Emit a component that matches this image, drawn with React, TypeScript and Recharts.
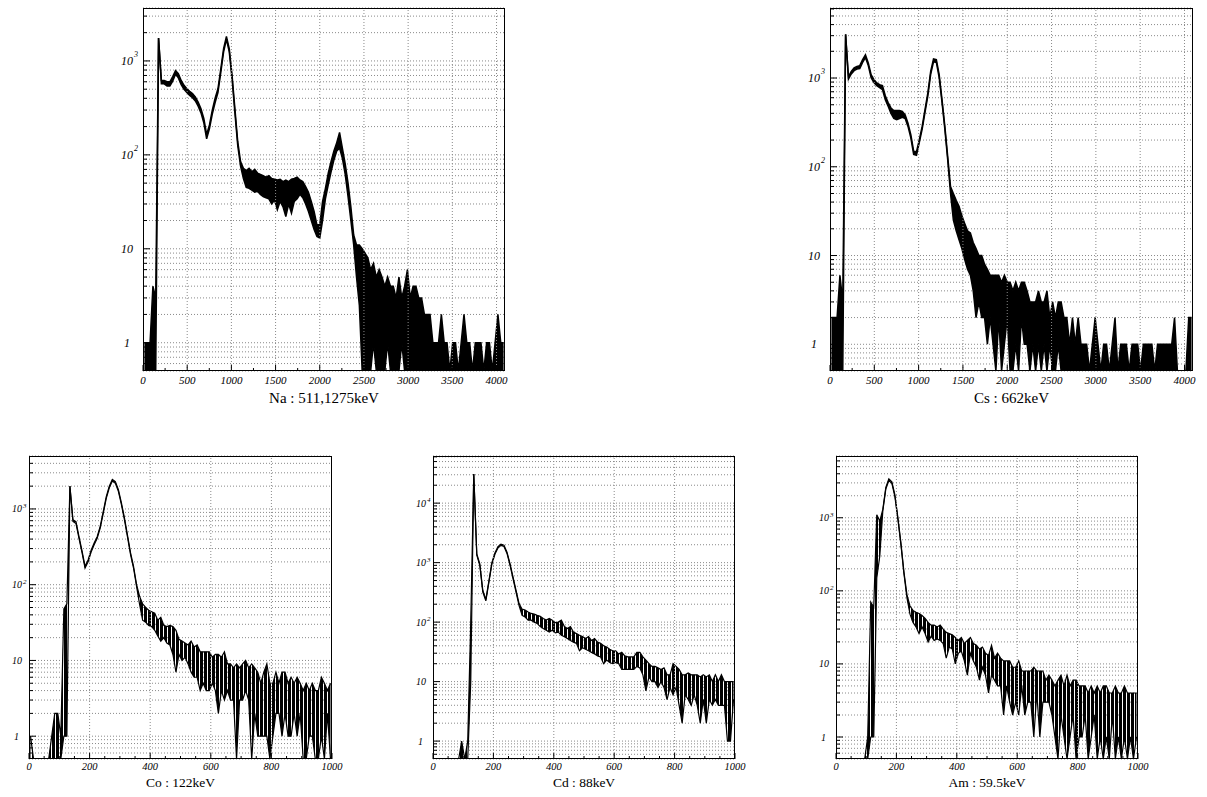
import { AreaChart, Area, XAxis, YAxis, CartesianGrid, ReferenceLine } from "recharts";

const serif = '"Liberation Serif", "Times New Roman", serif';

// axis ticks: labelled ones and the small ones between them
const naXLabels = [0, 500, 1000, 1500, 2000, 2500, 3000, 3500, 4000];
const naXTicks = [0, 250, 500, 750, 1000, 1250, 1500, 1750, 2000, 2250, 2500, 2750, 3000, 3250, 3500, 3750, 4000];
const lowXLabels = [0, 200, 400, 600, 800, 1000];
const lowXTicks = [0, 50, 100, 150, 200, 250, 300, 350, 400, 450, 500, 550, 600, 650, 700, 750, 800, 850, 900, 950, 1000];
const decadeLabels = [1, 10, 100, 1000, 10000];

// Na-22: 32 channels per bin, highest and lowest count seen inside each bin
const naHi = [
  1, 1, 1, 4, 3, 1750,
  620, 620, 600, 600, 680, 790, 730, 620, 550, 505, 475, 450, 415, 365, 310, 245, 165, 208, 300, 400, 505, 820, 1350, 1820, 1350, 700, 310, 138, 85, 72,
  68, 72, 66, 70, 64, 62, 60, 58, 60, 56, 55, 54, 55, 52, 54, 52, 55, 56, 58,
  54, 52, 46, 40, 32, 25, 18, 18, 32, 44, 64, 85, 110, 135, 173, 118, 80, 50, 28, 14, 11, 11, 10, 9,
  8, 6, 7, 5, 6, 5, 4, 5, 4, 4, 3, 5, 3, 4, 6, 3, 4, 4, 3, 3, 2, 2, 2,
  1, 1, 1, 2, 1, 1, 0.5, 1, 1, 0.5, 1, 2, 1, 1, 0.5, 1, 1, 1, 0.5, 1, 1, 0.5, 1, 2, 1, 1,
];
const naLo = [
  0.5, 0.5, 0.5, 0.5, 0.5, 1750,
  570, 570, 540, 540, 610, 720, 660, 560, 500, 460, 430, 405, 375, 330, 280, 220, 148, 190, 272, 360, 460, 750, 1250, 1700, 1250, 640, 280, 125, 76, 56,
  45, 44, 42, 40, 41, 38, 36, 35, 34, 30, 33, 26, 32, 28, 22, 30, 24, 32, 34,
  38, 35, 30, 25, 20, 16, 13.5, 13, 20, 34, 48, 66, 88, 110, 118, 92, 62, 36, 20, 11, 5, 2.5, 0.5, 0.5,
  0.5, 0.5, 1, 0.5, 0.5, 0.5, 0.5, 1, 0.5, 0.5, 0.5, 0.5, 1, 0.5, 0.5, 0.5, 0.5, 0.5, 0.5, 0.5, 0.5, 0.5, 0.5,
  0.5, 0.5, 0.5, 0.5, 0.5, 0.5, 0.5, 0.5, 0.5, 0.5, 0.5, 0.5, 0.5, 0.5, 0.5, 0.5, 0.5, 0.5, 0.5, 0.5, 0.5, 0.5, 0.5, 0.5, 0.5, 0.5,
];

// Cs-137: 32 channels per bin
const csHi = [
  2, 2, 2, 6, 3, 3100, 1040, 1190, 1300, 1350, 1380, 1610, 1830, 1480, 1090, 960,
  880, 840, 820, 630, 530, 460, 430, 430, 430, 420, 385, 310, 230, 150, 148, 202,
  285, 440, 680, 1190, 1640, 1610, 1090, 570, 285, 131, 60, 50, 42, 36, 28, 23,
  19, 18, 14, 12, 10, 10, 8, 7, 6, 6, 6, 6, 5, 6, 5, 5,
  4, 5, 4, 5, 5, 4, 3, 3, 3, 4, 3, 3, 4, 2, 3, 2,
  3, 3, 2, 2, 1, 2, 1, 2, 1, 1, 1, 0.5, 1, 2, 1, 0.5,
  1, 1, 0.5, 1, 2, 0.5, 1, 1, 1, 0.5, 1, 1, 1, 0.5, 1, 1,
  1, 1, 0.5, 1, 1, 1, 1, 1, 1, 2, 0.5, 0.5, 0.5, 0.5, 2, 2,
];
const csLo = [
  0.5, 0.5, 0.5, 0.5, 0.5, 3100, 970, 1110, 1210, 1260, 1280, 1500, 1700, 1380, 1010, 890,
  820, 780, 740, 570, 480, 400, 350, 340, 350, 360, 350, 285, 212, 138, 135, 188,
  265, 410, 630, 1100, 1520, 1500, 1010, 530, 265, 120, 50, 25, 19, 15, 12, 9,
  7, 6, 4, 2, 3, 2, 2, 1, 2, 1, 0.5, 2, 0.5, 1, 2, 0.5,
  0.5, 1, 0.5, 2, 1, 1, 0.5, 1, 0.5, 1, 0.5, 1, 0.5, 1, 0.5, 0.5,
  1, 0.5, 0.5, 0.5, 0.5, 0.5, 0.5, 0.5, 0.5, 0.5, 0.5, 0.5, 0.5, 0.5, 0.5, 0.5,
  0.5, 0.5, 0.5, 0.5, 0.5, 0.5, 0.5, 0.5, 0.5, 0.5, 0.5, 0.5, 0.5, 0.5, 0.5, 0.5,
  0.5, 0.5, 0.5, 0.5, 0.5, 0.5, 0.5, 0.5, 0.5, 0.5, 0.5, 0.5, 0.5, 0.5, 0.5, 0.5,
];

// Co-57: 10 channels per bin
const coHi = [
  1, 0.5, 0.5, 0.5, 0.5, 0.5, 0.5, 1, 2, 2, 1, 48, 56, 2000, 720, 680, 430, 280, 175, 212,
  285, 355, 430, 590, 920, 1450, 2000, 2450, 2300, 1800, 1200, 760, 450, 265, 175, 100, 70, 56, 50, 46,
  44, 42, 34, 37, 29, 28, 29, 28, 25, 19, 18, 17, 16, 18, 15, 16, 13, 13, 13, 13,
  11, 12, 12, 11, 13, 9, 9, 8, 9, 8, 9, 10, 8, 9, 8, 7, 5, 7, 9, 5,
  5, 7, 5, 7, 7, 5, 6, 5, 6, 5, 4, 5, 4, 5, 4, 4, 6, 5, 4, 5,
];
const coLo = [
  0.5, 0.5, 0.5, 0.5, 0.5, 0.5, 0.5, 0.5, 0.5, 0.5, 0.5, 1, 1, 2000, 685, 645, 410, 265, 166, 200,
  270, 337, 410, 560, 875, 1380, 1900, 2330, 2180, 1710, 1140, 720, 428, 252, 166, 95, 55, 34, 32, 29,
  28, 25, 21, 18, 20, 17, 16, 12, 7, 12, 10, 11, 9, 7, 6, 6, 4, 5, 4, 4,
  5, 4, 2, 4, 3, 4, 3, 3, 0.5, 3, 3, 4, 3, 0.5, 2, 1, 1, 1, 1, 0.5,
  1, 2, 2, 1, 2, 1, 1, 2, 1, 2, 0.5, 0.5, 1, 1, 0.5, 0.5, 1, 0.5, 2, 0.5,
];

// Cd-109: 10 channels per bin
const cdHi = [
  0.5, 0.5, 0.5, 0.5, 0.5, 0.5, 0.5, 0.5, 0.5, 1, 0.5, 1, 100, 31000, 1400, 950, 340, 240, 490, 1000,
  1450, 1850, 2050, 1970, 1500, 960, 570, 340, 205, 165, 160, 148, 140, 136, 130, 125, 115, 108, 115, 108,
  98, 100, 108, 84, 78, 84, 68, 64, 60, 57, 53, 57, 49, 53, 46, 44, 40, 38, 35, 33,
  33, 29, 31, 27, 26, 26, 26, 31, 31, 26, 23, 20, 18, 18, 17, 16, 17, 13, 13, 20,
  18, 16, 13, 13, 14, 13, 13, 13, 12, 13, 12, 13, 10, 13, 10, 13, 10, 10, 10, 10,
];
const cdLo = [
  0.5, 0.5, 0.5, 0.5, 0.5, 0.5, 0.5, 0.5, 0.5, 0.5, 0.5, 0.5, 10, 31000, 1330, 900, 320, 228, 465, 950,
  1380, 1760, 1950, 1870, 1430, 910, 540, 320, 190, 130, 122, 108, 108, 100, 95, 84, 78, 73, 68, 73,
  66, 68, 60, 57, 53, 49, 46, 44, 33, 37, 35, 33, 31, 29, 27, 26, 20, 23, 21, 20,
  21, 20, 16, 16, 16, 16, 16, 18, 17, 13, 7, 12, 10, 10, 8, 10, 8, 5, 8, 6,
  8, 4, 2, 6, 5, 4, 6, 4, 2, 5, 2, 5, 4, 5, 4, 4, 4, 1, 1, 5,
];

// Am-241: 10 channels per bin
const amHi = [
  0.5, 0.5, 0.5, 0.5, 0.5, 0.5, 0.5, 0.5, 0.5, 0.5, 1, 70, 60, 1100, 900, 1300, 2600, 3400, 3100, 2050,
  1000, 450, 180, 88, 62, 54, 51, 49, 46, 42, 37, 34, 34, 32, 34, 30, 27, 26, 25, 23,
  21, 23, 19, 21, 23, 19, 18, 16, 17, 14, 13, 18, 12, 14, 12, 11, 11, 11, 9, 9,
  11, 8, 8, 8, 8, 9, 8, 8, 8, 6, 7, 6, 5, 6, 7, 5, 7, 5, 6, 6,
  5, 5, 5, 4, 5, 4, 5, 4, 5, 5, 4, 4, 5, 4, 4, 5, 4, 4, 4, 4,
];
const amLo = [
  0.5, 0.5, 0.5, 0.5, 0.5, 0.5, 0.5, 0.5, 0.5, 0.5, 0.5, 1, 1, 150, 300, 1240, 2480, 3240, 2950, 1950,
  950, 428, 171, 80, 48, 37, 32, 26, 32, 26, 20, 24, 21, 22, 21, 19, 12, 17, 16, 10,
  14, 15, 11, 7, 14, 11, 9, 6, 9, 7, 4, 7, 6, 5, 5, 2, 5, 3, 2, 3,
  2, 5, 2, 3, 3, 1, 4, 1, 3, 3, 3, 2, 1, 0.5, 2, 1, 0.5, 1, 2, 0.5,
  1, 1, 2, 0.5, 1, 2, 0.5, 1, 0.5, 1, 0.5, 2, 0.5, 1, 0.5, 1, 0.5, 1, 0.5, 1,
];

type Rect = { x: number; y: number; w: number; h: number };

interface SpectrumProps {
  id: string;
  hi: number[];
  lo: number[];
  binW: number;
  xMax: number;
  xTicks: number[];
  xLabels: number[];
  yTop: number;
  plot: Rect;
  title: string;
  titleY: number;
  titleSize: number;
  xFont: number;
  yFont: number;
  supFont: number;
  supDy: number;
  yGap: number;
  xDy: number;
  lineW: number;
  hatched: boolean;
}

// one row per bin, placed at the bin centre
function toRows(hi: number[], lo: number[], binW: number) {
  return hi.map((h, i) => ({ x: (i + 0.5) * binW, r: [lo[i], h] }));
}

// 1..9 x 10^n grid lines between 0.5 and the top of the axis
function logTicks(top: number) {
  const out: number[] = [];
  for (let d = 0.1; d < top; d *= 10) {
    for (let m = 1; m < 10; m++) {
      const v = Number((m * d).toPrecision(3));
      if (v > 0.5 && v < top) out.push(v);
    }
  }
  return out;
}

function Spectrum(props: SpectrumProps) {
  const { plot, yTop, xMax, xTicks, xLabels, yFont, supFont, supDy, yGap, xFont, xDy } = props;
  const ml = 45;
  const mt = 5;
  const mr = 20;
  const bottom = mt + plot.h;
  const data = toRows(props.hi, props.lo, props.binW);
  const txt = { fontFamily: serif, fontStyle: "italic" as const, fill: "#000" };
  const hatch = `counts-${props.id}`;

  const yTick = (p: any) => {
    const v = p.payload.value;
    const major = decadeLabels.includes(v);
    const mark = <line x1={ml} x2={ml + (major ? 7 : 4)} y1={p.y} y2={p.y} stroke="#000" strokeWidth={1} />;
    if (!major) return <g>{mark}</g>;
    const e = Math.round(Math.log10(v));
    const xr = ml - yGap;
    return (
      <g>
        {mark}
        {e === 0 ? (
          <text x={xr - 3} y={p.y} dy="0.35em" textAnchor="end" fontSize={yFont} {...txt}>
            1
          </text>
        ) : (
          <text x={xr} y={p.y} dy="0.35em" textAnchor="end" fontSize={yFont} {...txt}>
            10
          </text>
        )}
        {e > 1 && (
          <text x={xr + 1} y={p.y + supDy} fontSize={supFont} {...txt}>
            {e}
          </text>
        )}
      </g>
    );
  };

  const xTick = (p: any) => {
    const v = p.payload.value;
    const major = xLabels.includes(v);
    return (
      <g>
        <line x1={p.x} x2={p.x} y1={bottom} y2={bottom - (major ? 6 : 3)} stroke="#000" strokeWidth={1} />
        {major && (
          <text x={p.x} y={bottom + xDy} textAnchor="middle" fontSize={xFont} {...txt}>
            {v}
          </text>
        )}
      </g>
    );
  };

  return (
    <>
      <div style={{ position: "absolute", left: plot.x - ml, top: plot.y - mt }}>
        <AreaChart
          width={plot.w + ml + mr}
          height={plot.h + mt + 40}
          data={data}
          margin={{ top: mt, right: mr, left: 0, bottom: 10 }}
        >
          <defs>
            {/* dense single-channel lines of the original histogram */}
            <pattern id={hatch} width={4} height={6} patternUnits="userSpaceOnUse">
              <rect x={0} y={0} width={3} height={6} fill="#000" />
            </pattern>
          </defs>
          <CartesianGrid stroke="#8a8a8a" strokeDasharray="1 2" vertical={false} />
          {xLabels
            .filter((v) => v > 0 && v < xMax)
            .map((v) => (
              <ReferenceLine key={v} x={v} stroke="#8a8a8a" strokeDasharray="1 2" />
            ))}
          <XAxis
            type="number"
            dataKey="x"
            domain={[0, xMax]}
            ticks={xTicks}
            interval={0}
            allowDataOverflow
            axisLine={false}
            tickLine={false}
            height={30}
            tick={xTick}
          />
          <YAxis
            type="number"
            scale="log"
            domain={[0.5, yTop]}
            ticks={logTicks(yTop)}
            interval={0}
            allowDataOverflow
            axisLine={false}
            tickLine={false}
            width={ml}
            tick={yTick}
          />
          <Area
            type="linear"
            dataKey="r"
            stroke="#000"
            strokeWidth={props.lineW}
            fill={props.hatched ? `url(#${hatch})` : "#000"}
            fillOpacity={1}
            dot={false}
            activeDot={false}
            isAnimationActive={false}
          />
        </AreaChart>
      </div>
      <div
        style={{
          position: "absolute",
          left: plot.x,
          top: plot.y,
          width: plot.w,
          height: plot.h,
          border: "1px solid #000",
          boxSizing: "border-box",
          pointerEvents: "none",
        }}
      />
      <div
        style={{
          position: "absolute",
          left: plot.x,
          width: plot.w,
          top: props.titleY - props.titleSize / 2,
          lineHeight: `${props.titleSize}px`,
          fontSize: props.titleSize,
          fontFamily: serif,
          textAlign: "center",
          color: "#000",
          whiteSpace: "nowrap",
        }}
      >
        {props.title}
      </div>
    </>
  );
}

export default function App() {
  const top = { binW: 32, xMax: 4096, xTicks: naXTicks, xLabels: naXLabels, titleY: 398, titleSize: 15, xFont: 11, yFont: 12, supFont: 8, supDy: -4, yGap: 10, xDy: 13, lineW: 1.5, hatched: false };
  const low = { binW: 10, xMax: 1000, xTicks: lowXTicks, xLabels: lowXLabels, titleY: 783, titleSize: 13.5, xFont: 10.5, yFont: 10, supFont: 7, supDy: -1, yGap: 7, xDy: 11, lineW: 1.2, hatched: true };

  return (
    <div style={{ position: "absolute", left: 0, top: 0, width: 1207, height: 797, background: "#fff", overflow: "hidden" }}>
      <Spectrum {...top} id="na" hi={naHi} lo={naLo} yTop={3660} plot={{ x: 143, y: 8, w: 362, h: 363 }} title="Na : 511,1275keV" />
      <Spectrum {...top} id="cs" hi={csHi} lo={csLo} yTop={6150} plot={{ x: 830, y: 8, w: 363, h: 363 }} title="Cs : 662keV" />
      <Spectrum {...low} id="co" hi={coHi} lo={coLo} yTop={5000} plot={{ x: 29, y: 456, w: 303, h: 303 }} title="Co : 122keV" />
      <Spectrum {...low} id="cd" hi={cdHi} lo={cdLo} yTop={62000} plot={{ x: 433, y: 456, w: 302, h: 303 }} title="Cd : 88keV" />
      <Spectrum {...low} id="am" hi={amHi} lo={amLo} yTop={7000} plot={{ x: 836, y: 456, w: 302, h: 303 }} title="Am : 59.5keV" />
    </div>
  );
}
